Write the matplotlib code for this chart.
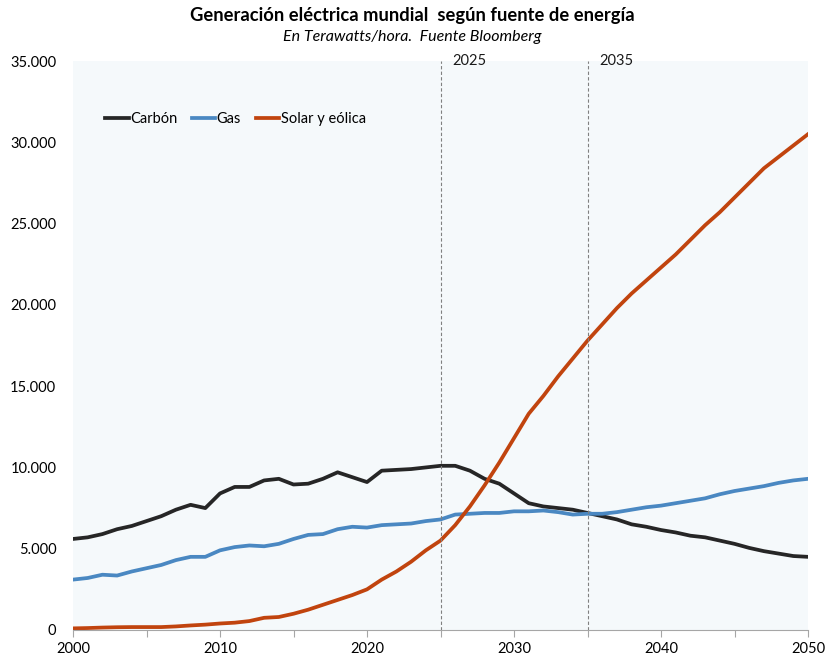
import numpy as np
import matplotlib.pyplot as plt
from matplotlib.ticker import FuncFormatter

plt.rcParams['font.family'] = ['Lato', 'DejaVu Sans']

anios = list(range(2000, 2051))

carbon = [5.6, 5.7, 5.9, 6.2, 6.4, 6.7, 7.0, 7.4, 7.7, 7.5,
          8.4, 8.8, 8.8, 9.2, 9.3, 8.95, 9.0, 9.3, 9.7, 9.4,
          9.1, 9.8, 9.85, 9.9, 10.0, 10.1, 10.1, 9.8, 9.3, 9.0,
          8.4, 7.8, 7.6, 7.5, 7.4, 7.2, 7.0, 6.8, 6.5, 6.35,
          6.15, 6.0, 5.8, 5.7, 5.5, 5.3, 5.05, 4.85, 4.7, 4.55,
          4.5]
gas = [3.1, 3.2, 3.4, 3.35, 3.6, 3.8, 4.0, 4.3, 4.5, 4.5,
       4.9, 5.1, 5.2, 5.15, 5.3, 5.6, 5.85, 5.9, 6.2, 6.35,
       6.3, 6.45, 6.5, 6.55, 6.7, 6.8, 7.1, 7.15, 7.2, 7.2,
       7.3, 7.3, 7.35, 7.25, 7.1, 7.15, 7.15, 7.25, 7.4, 7.55,
       7.65, 7.8, 7.95, 8.1, 8.35, 8.55, 8.7, 8.85, 9.05, 9.2,
       9.3]
solar_eolica = [0.1, 0.12, 0.15, 0.17, 0.18, 0.18, 0.18, 0.22, 0.28, 0.33,
                0.4, 0.45, 0.55, 0.75, 0.8, 1.0, 1.25, 1.55, 1.85, 2.15,
                2.5, 3.1, 3.6, 4.2, 4.9, 5.5, 6.45, 7.6, 8.9, 10.3,
                11.8, 13.3, 14.4, 15.6, 16.7, 17.8, 18.8, 19.8, 20.7, 21.5,
                22.3, 23.1, 24.0, 24.9, 25.7, 26.6, 27.5, 28.4, 29.1, 29.8,
                30.5]

# valores en miles de TWh -> TWh
carbon = np.array(carbon) * 1000
gas = np.array(gas) * 1000
solar_eolica = np.array(solar_eolica) * 1000

marcas = [2025, 2035]

fig = plt.figure(figsize=(8.25, 6.61), dpi=100)
ax = fig.add_axes([0.0885, 0.0469, 0.8909, 0.8608])
ax.set_facecolor('#f5f9fb')

ax.plot(anios, carbon, color='#262626', lw=2.7, label='Carbón')
ax.plot(anios, gas, color='#4a88c2', lw=2.7, label='Gas')
ax.plot(anios, solar_eolica, color='#c1440e', lw=2.7, label='Solar y eólica')

for m in marcas:
    ax.axvline(m, color='#808080', lw=0.8, ls=(0, (3, 2)))
    ax.text(m + 0.8, 35000, str(m), fontsize=10.5, color='#1a1a1a',
            ha='left', va='center')

ax.set_xlim(2000, 2050)
ax.set_ylim(0, 35000)
ax.set_xticks(range(2000, 2051, 5))
ax.set_xticklabels([str(a) if a % 10 == 0 else '' for a in range(2000, 2051, 5)])
ax.set_yticks(range(0, 35001, 5000))
ax.yaxis.set_major_formatter(FuncFormatter(lambda v, p: f'{int(v):,}'.replace(',', '.')))

for s in ['top', 'right', 'left']:
    ax.spines[s].set_visible(False)
ax.spines['bottom'].set_color('#a6a6a6')
ax.tick_params(axis='x', direction='out', length=5, color='#a6a6a6',
               labelsize=10.5, pad=4)
ax.tick_params(axis='y', length=0, labelsize=10.5, pad=12)

leg = ax.legend(loc='center left', bbox_to_anchor=(0.044, 0.898), ncol=3, frameon=False,
                fontsize=10.5, handlelength=1.6, handletextpad=0.1,
                columnspacing=1.0, borderpad=0, borderaxespad=0)

fig.text(0.5, 0.977, 'Generación eléctrica mundial  según fuente de energía',
         ha='center', va='center', fontsize=13.2, fontweight='bold')
fig.text(0.5, 0.944, 'En Terawatts/hora.  Fuente Bloomberg',
         ha='center', va='center', fontsize=11.5, style='italic')

fig.savefig('out.png', dpi=100)
